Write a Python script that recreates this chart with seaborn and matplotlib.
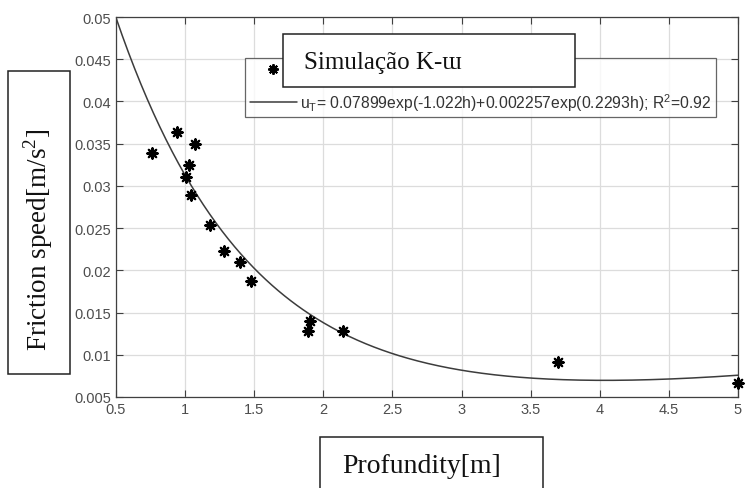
import numpy as np
import pandas as pd
import matplotlib
matplotlib.use("Agg")
import matplotlib.pyplot as plt
import seaborn as sns
from matplotlib.lines import Line2D
from matplotlib.patches import Rectangle

# ---- data ----
depth = [0.76, 0.94, 1.07, 1.03, 1.01, 1.04, 1.18, 1.28, 1.40, 1.48, 1.90, 1.89, 2.14, 3.70, 5.00]
speed = [0.0339, 0.0364, 0.0350, 0.0325, 0.0311, 0.0289, 0.0254, 0.0223, 0.0210, 0.0187,
         0.0140, 0.0128, 0.0128, 0.0091, 0.0066]
# fitted model shown in the legend: a*exp(b*h) + c*exp(d*h)
fit_coeffs = [0.07899, -1.022, 0.002257, 0.2293]
x_ticks = [0.5, 1, 1.5, 2, 2.5, 3, 3.5, 4, 4.5, 5]
y_ticks = [0.005, 0.01, 0.015, 0.02, 0.025, 0.03, 0.035, 0.04, 0.045, 0.05]
x_tick_labels = ["0.5", "1", "1.5", "2", "2.5", "3", "3.5", "4", "4.5", "5"]
y_tick_labels = ["0.005", "0.01", "0.015", "0.02", "0.025", "0.03", "0.035", "0.04", "0.045", "0.05"]
legend_fit_label = r"u$_\mathregular{T}$= 0.07899exp(-1.022h)+0.002257exp(0.2293h); R$^\mathregular{2}$=0.92"
title_text = "Simulação K-ɯ"
xlabel_text = "Profundity[m]"
ylabel_text = r"Friction speed[m/s$^\mathregular{2}$]"

sns.set_theme(style="white")
plt.rcParams["font.family"] = ["Liberation Sans", "DejaVu Sans"]
plt.rcParams["mathtext.fontset"] = "custom"
plt.rcParams["mathtext.rm"] = "Liberation Serif"

fig = plt.figure(figsize=(7.46, 4.89), dpi=100)
W, H = 746, 489
ax = fig.add_axes([116 / W, 1 - 398 / H, (738 - 116) / W, (398 - 18) / H])

a, b, c, d = fit_coeffs
h = np.linspace(0.5, 5.0, 300)
fit_df = pd.DataFrame({"h": h, "u": a * np.exp(b * h) + c * np.exp(d * h)})
pts_df = pd.DataFrame({"h": depth, "u": speed})

sns.lineplot(data=fit_df, x="h", y="u", ax=ax, color="#3c3c3c", linewidth=1.1)
sns.scatterplot(data=pts_df, x="h", y="u", ax=ax, marker=(8, 2, 0), color="black",
                edgecolor="black", s=55, linewidth=1.6, zorder=5, clip_on=False)

ax.set_xlim(0.5, 5)
ax.set_ylim(0.005, 0.05)
ax.set_xticks(x_ticks)
ax.set_xticklabels(x_tick_labels)
ax.set_yticks(y_ticks)
ax.set_yticklabels(y_tick_labels)
ax.set_xlabel("")
ax.set_ylabel("")
ax.grid(True, color="#dcdcdc", linewidth=0.9)
ax.set_axisbelow(True)
ax.tick_params(axis="both", which="both", direction="in", length=5, width=0.8,
               colors="#404040", labelcolor="#4d4d4d", labelsize=10.5,
               top=True, right=True, bottom=True, left=True)
for sp in ax.spines.values():
    sp.set_visible(True)
    sp.set_color("#404040")
    sp.set_linewidth(0.9)

# legend (MATLAB style)
handles = [Line2D([], [], linestyle="none", marker=(8, 2, 0), color="black",
                  markersize=7.5, markeredgewidth=1.4),
           Line2D([], [], color="#3c3c3c", linewidth=1.1)]
leg = ax.legend(handles, ["", legend_fit_label], loc="upper left",
                bbox_to_anchor=(245 / W, 1 - 59 / H), bbox_transform=fig.transFigure,
                fontsize=11.3, frameon=True, fancybox=False, handlelength=3.0,
                handletextpad=0.2, borderpad=0.3, labelspacing=0.85, borderaxespad=0)
leg.get_frame().set_edgecolor("#404040")
leg.get_frame().set_linewidth(0.9)
for t in leg.get_texts():
    t.set_color("#333333")

serif = ["Liberation Serif", "DejaVu Serif"]

# title box covering first legend entry
fig.patches.append(Rectangle((283 / W, 1 - 88 / H), (575 - 283) / W, (88 - 35) / H,
                             transform=fig.transFigure, facecolor="white",
                             edgecolor="#222222", linewidth=1.1, zorder=10))
fig.text(304 / W, 1 - 63 / H, title_text, family=serif, fontsize=18, color="#111111",
         ha="left", va="center", zorder=11)

# y label box
fig.patches.append(Rectangle((8 / W, 1 - 375 / H), (70 - 8) / W, (375 - 72) / H,
                             transform=fig.transFigure, facecolor="white",
                             edgecolor="#222222", linewidth=1.1, zorder=10))
fig.text(38 / W, 1 - 240 / H, ylabel_text, family=serif, fontsize=19.5, color="#111111",
         rotation=90, ha="center", va="center", zorder=11)

# x label box
fig.patches.append(Rectangle((320 / W, -0.01), (543 - 320) / W, (489 - 438) / H + 0.01,
                             transform=fig.transFigure, facecolor="white",
                             edgecolor="#222222", linewidth=1.1, zorder=10))
fig.text(342 / W, 1 - 467 / H, xlabel_text, family=serif, fontsize=20, color="#111111",
         ha="left", va="center", zorder=11)

fig.savefig("out.png", dpi=100, facecolor="white")
